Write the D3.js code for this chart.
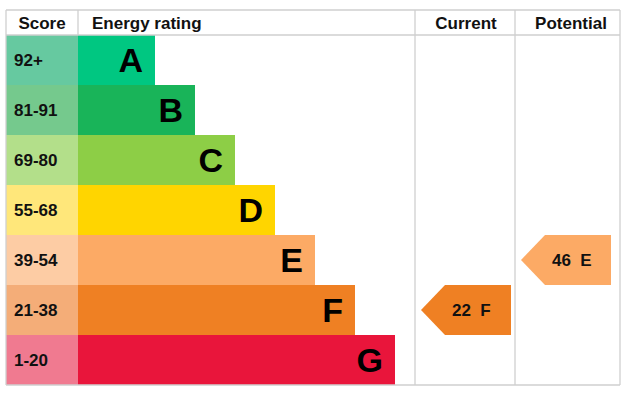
<!DOCTYPE html>
<html><head><meta charset="utf-8">
<script src="https://cdn.jsdelivr.net/npm/d3@7"></script>
<style>body{margin:0;background:#fff}text{font-family:Arial,"Liberation Sans",sans-serif;font-weight:bold}</style>
</head><body><svg id="c" width="636" height="402"></svg>
<script>
const letters=["A","B","C","D","E","F","G"];
const scores=["92+","81-91","69-80","55-68","39-54","21-38","1-20"];
const barColors=["#00c781","#19b459","#8dce46","#ffd500","#fcaa65","#ef8023","#e9153b"];
const scoreColors=["#66c9a0","#75c98d","#b3df8a","#ffe77a","#fdcca4","#f4ad78","#f07a90"];
const barEnds=[1,2,3,4,5,6,7];
const current={value:22,band:"F"};
const potential={value:46,band:"E"};
const headers=["Score","Energy rating","Current","Potential"];

(function(){
const svg=d3.select("#c");
const y=d3.scaleBand().domain(letters).range([35,385]);
const x=d3.scaleLinear().domain([0,7]).range([118,398]);
const left=6,scoreR=78,curL=415,potL=515,right=620,topY=10;
const grey="#cfcfcf";
const g=svg.append("g");
letters.forEach((l,i)=>{
  g.append("rect").attr("x",left).attr("y",y(l)).attr("width",scoreR-left).attr("height",y.bandwidth()).attr("fill",scoreColors[i]);
  g.append("rect").attr("x",scoreR).attr("y",y(l)).attr("width",x(barEnds[i])-scoreR-3).attr("height",y.bandwidth()).attr("fill",barColors[i]);
  g.append("text").attr("x",14).attr("y",y(l)+y.bandwidth()/2+6).attr("font-size",17).attr("fill","#111").text(scores[i]);
  g.append("text").attr("x",x(barEnds[i])-15).attr("y",y(l)+y.bandwidth()/2+12).attr("text-anchor","end").attr("font-size",34).attr("fill","#000").text(l);
});
const line=(x1,y1,x2,y2)=>svg.append("line").attr("x1",x1).attr("y1",y1).attr("x2",x2).attr("y2",y2).attr("stroke",grey).attr("stroke-width",1.3);
line(left,topY,right,topY);line(left,35,right,35);line(left,385,right,385);
line(left,topY,left,385);line(right,topY,right,385);line(scoreR,topY,scoreR,35);
line(curL,topY,curL,385);line(potL,topY,potL,385);
const hx=[[42,"middle"],[92,"start"],[466,"middle"],[571,"middle"]];
headers.forEach((h,i)=>svg.append("text").attr("x",hx[i][0]).attr("y",29).attr("text-anchor",hx[i][1]).attr("font-size",17).attr("fill","#111").text(h));
function arrow(d,colL){
  const i=letters.indexOf(d.band);const y0=y(d.band),h=y.bandwidth();
  const x0=colL+6,x1=colL+96;
  svg.append("path").attr("d",`M${x0},${y0+h/2}L${x0+24},${y0}L${x1},${y0}L${x1},${y0+h}L${x0+24},${y0+h}Z`).attr("fill",barColors[i]);
  svg.append("text").attr("x",x0+31).attr("y",y0+h/2+6).attr("font-size",17).attr("fill","#111").attr("xml:space","preserve").text(d.value+"  "+d.band);
}
arrow(current,curL);arrow(potential,potL);
})();
</script></body></html>
